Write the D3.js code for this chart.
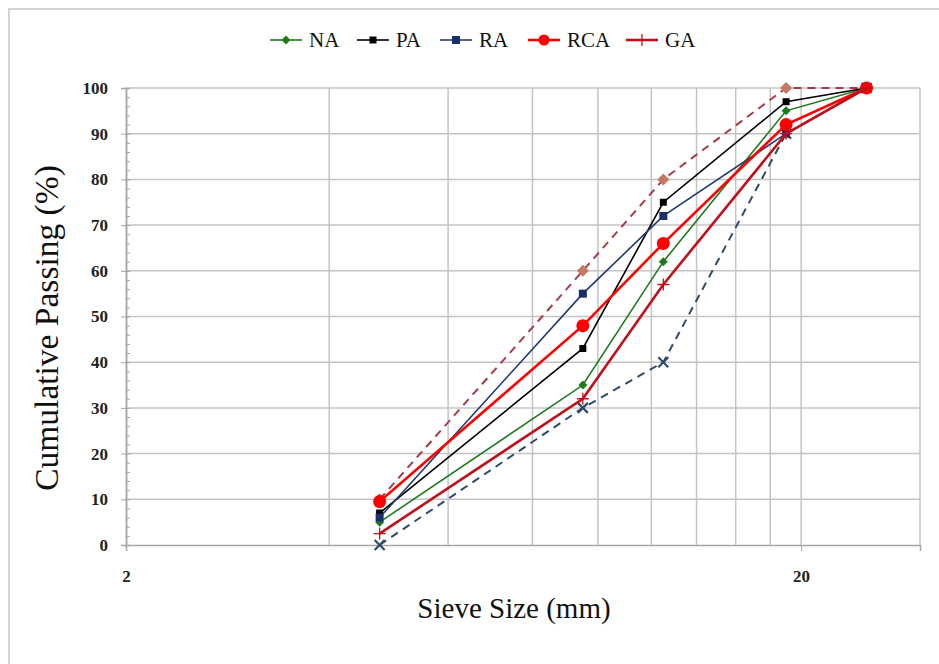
<!DOCTYPE html>
<html>
<head>
<meta charset="utf-8">
<script src="https://cdn.jsdelivr.net/npm/d3@7"></script>
<style>
  body { margin: 0; background: #fff; }
</style>
</head>
<body>
<svg id="chart" width="939" height="664"></svg>
<script>
// sieve sizes (mm) and cumulative passing (%)
var sieveSizes = [4.75, 9.5, 12.5, 19, 25];
var naPassing  = [5, 35, 62, 95, 100];
var paPassing  = [7, 43, 75, 97, 100];
var raPassing  = [6, 55, 72, 90, 100];
var rcaPassing = [9.5, 48, 66, 92, 100];
var gaPassing  = [2.5, 32, 57, 90, 100];
var upperLimit = [10, 60, 80, 100, 100];
var lowerLimit = [0, 30, 40, 90, 100];

var yMajorTicks = [0, 10, 20, 30, 40, 50, 60, 70, 80, 90, 100];
var xMajorTicks = [2, 20];
var xMinorGrid  = [4, 6, 8, 10, 12, 14, 16, 18];

var serif = "'Liberation Serif'";
var svg = d3.select('#chart');

// outer chart frame (only left/top edges fall inside the window)
svg.append('rect')
  .attr('x', 9).attr('y', 9)
  .attr('width', 960).attr('height', 700)
  .attr('fill', 'none').attr('stroke', '#d4d4d4').attr('stroke-width', 2);

var x = d3.scaleLog().domain([2, 30]).range([126, 920]);
var y = d3.scaleLinear().domain([0, 100]).range([545, 88]);

var grid = svg.append('g').attr('class', 'grid');
grid.selectAll('line.h')
  .data(yMajorTicks.slice(1))
  .enter().append('line').attr('class', 'h')
  .attr('x1', x(2)).attr('x2', x(30))
  .attr('y1', function(d) { return y(d); })
  .attr('y2', function(d) { return y(d); })
  .attr('stroke', '#c4c4c4').attr('stroke-width', 1.5);
grid.selectAll('line.v')
  .data(xMinorGrid.concat([20, 30]))
  .enter().append('line').attr('class', 'v')
  .attr('x1', function(d) { return x(d); })
  .attr('x2', function(d) { return x(d); })
  .attr('y1', y(0)).attr('y2', y(100))
  .attr('stroke', '#c4c4c4').attr('stroke-width', 1.5);

// axes
var yAxis = svg.append('g').attr('transform', 'translate(' + x(2) + ',0)')
  .call(d3.axisLeft(y).tickValues(yMajorTicks).tickSize(5).tickPadding(13));
var yMinor = svg.append('g').attr('transform', 'translate(' + x(2) + ',0)')
  .call(d3.axisRight(y).tickValues(d3.range(0, 101, 2)).tickSize(4).tickFormat(''));
var xAxis = svg.append('g').attr('transform', 'translate(0,' + y(0) + ')')
  .call(d3.axisBottom(x).tickValues(xMajorTicks).tickSize(6).tickPadding(19).tickFormat(d3.format('d')));

[yAxis, yMinor, xAxis].forEach(function(g) {
  g.attr('font-family', null).attr('font-size', null);
  g.select('.domain').attr('stroke', '#a6a6a6').attr('stroke-width', 1.5);
  g.selectAll('.tick line').attr('stroke', '#a6a6a6');
  g.selectAll('.tick text')
    .attr('fill', '#222')
    .style('font-family', serif)
    .style('font-size', '17px')
    .style('font-weight', 'bold');
});

svg.append('text')
  .attr('transform', 'translate(58,328) rotate(-90)')
  .attr('text-anchor', 'middle')
  .style('font-family', serif).style('font-size', '33.5px')
  .attr('fill', '#111')
  .text('Cumulative Passing (%)');
svg.append('text')
  .attr('x', 514).attr('y', 618)
  .attr('text-anchor', 'middle')
  .style('font-family', serif).style('font-size', '29px')
  .attr('fill', '#111')
  .text('Sieve Size (mm)');

// marker drawers
function marker(g, type, color, size) {
  if (type == 'circle') {
    g.append('circle').attr('r', size).attr('fill', color);
  } else if (type == 'square') {
    g.append('rect').attr('x', -size).attr('y', -size)
      .attr('width', size * 2).attr('height', size * 2).attr('fill', color);
  } else if (type == 'diamond') {
    g.append('path').attr('d', 'M0,' + (-size) + 'L' + size + ',0L0,' + size + 'L' + (-size) + ',0Z')
      .attr('fill', color);
  } else if (type == 'plus') {
    g.append('path').attr('d', 'M' + (-size) + ',0H' + size + 'M0,' + (-size) + 'V' + size)
      .attr('stroke', color).attr('stroke-width', 1.3);
  } else if (type == 'cross') {
    g.append('path').attr('d', 'M' + (-size) + ',' + (-size) + 'L' + size + ',' + size +
        'M' + size + ',' + (-size) + 'L' + (-size) + ',' + size)
      .attr('stroke', color).attr('stroke-width', 2.2);
  }
}

var series = [
  { name: 'lower', values: lowerLimit, color: '#2f4a6a', width: 2, dash: '8,6', marker: 'cross', mcolor: '#2f4a6a', msize: 5 },
  { name: 'upper', values: upperLimit, color: '#a83a48', width: 2, dash: '8,6', marker: 'diamond', mcolor: '#c47a62', msize: 6 },
  { name: 'NA',  values: naPassing,  color: '#1f7a1f', width: 1.6, marker: 'diamond', mcolor: '#1f7a1f', msize: 4.5 },
  { name: 'PA',  values: paPassing,  color: '#000000', width: 1.6, marker: 'square', mcolor: '#000000', msize: 3.5 },
  { name: 'RA',  values: raPassing,  color: '#1f3a73', width: 1.6, marker: 'square', mcolor: '#1a2f6a', msize: 4 },
  { name: 'RCA', values: rcaPassing, color: '#ff0000', width: 2.6, marker: 'circle', mcolor: '#ff0000', msize: 6.5 },
  { name: 'GA',  values: gaPassing,  color: '#c0101a', width: 2.6, marker: 'plus', mcolor: '#c0101a', msize: 6 }
];

var line = d3.line()
  .x(function(d) { return x(d[0]); })
  .y(function(d) { return y(d[1]); });

series.forEach(function(s) {
  var pts = sieveSizes.map(function(sz, i) { return [sz, s.values[i]]; });
  var g = svg.append('g').attr('class', 'series-' + s.name);
  g.append('path')
    .attr('d', line(pts))
    .attr('fill', 'none')
    .attr('stroke', s.color)
    .attr('stroke-width', s.width)
    .attr('stroke-dasharray', s.dash || null);
  pts.forEach(function(p) {
    var m = g.append('g').attr('transform', 'translate(' + x(p[0]) + ',' + y(p[1]) + ')');
    marker(m, s.marker, s.mcolor, s.msize);
  });
});

// legend
var legendItems = series.slice(2);
var legendX = [270, 357, 440, 528, 626];
var legend = svg.append('g').attr('class', 'legend');
legendItems.forEach(function(s, i) {
  var g = legend.append('g').attr('transform', 'translate(' + legendX[i] + ',40)');
  g.append('line').attr('x1', 0).attr('x2', 32).attr('y1', 0).attr('y2', 0)
    .attr('stroke', s.color).attr('stroke-width', s.width);
  var m = g.append('g').attr('transform', 'translate(16,0)');
  marker(m, s.marker, s.mcolor, s.name == 'RCA' ? 5.5 : s.msize);
  g.append('text').attr('x', 39).attr('y', 7)
    .style('font-family', serif).style('font-size', '21px')
    .attr('fill', '#111')
    .text(s.name);
});
</script>
</body>
</html>
